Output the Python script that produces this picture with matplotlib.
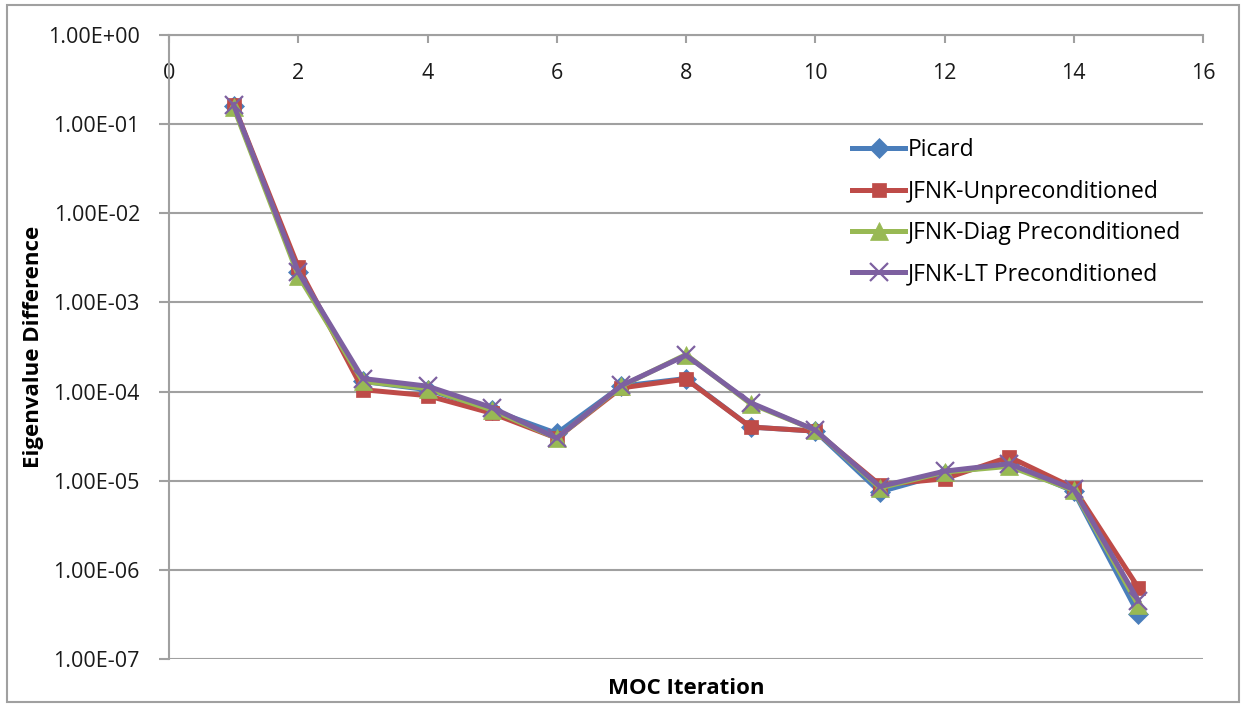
import matplotlib
matplotlib.use("Agg")
import matplotlib.pyplot as plt
from matplotlib.patches import Rectangle

iterations = list(range(1, 16))
picard = [0.16, 2.2e-3, 1.3e-4, 1.05e-4, 6.2e-5, 3.4e-5, 1.15e-4, 1.4e-4, 4.0e-5, 3.6e-5,
          7.5e-6, 1.2e-5, 1.55e-5, 7.6e-6, 3.2e-7]
jfnk_unprec = [0.165, 2.5e-3, 1.05e-4, 9.0e-5, 5.7e-5, 3.0e-5, 1.1e-4, 1.38e-4, 4.0e-5, 3.6e-5,
               9.0e-6, 1.05e-5, 1.85e-5, 8.3e-6, 6.3e-7]
jfnk_diag = [0.155, 2.0e-3, 1.3e-4, 1.08e-4, 6.2e-5, 3.0e-5, 1.15e-4, 2.6e-4, 7.3e-5, 3.7e-5,
             8.3e-6, 1.25e-5, 1.45e-5, 7.8e-6, 4.0e-7]
jfnk_lt = [0.165, 2.2e-3, 1.4e-4, 1.15e-4, 6.6e-5, 3.0e-5, 1.17e-4, 2.55e-4, 7.5e-5, 3.7e-5,
           8.6e-6, 1.28e-5, 1.55e-5, 8.0e-6, 4.5e-7]

series_names = ["Picard", "JFNK-Unpreconditioned", "JFNK-Diag Preconditioned", "JFNK-LT Preconditioned"]
y_ticks = [1e0, 1e-1, 1e-2, 1e-3, 1e-4, 1e-5, 1e-6, 1e-7]
y_tick_labels = ["1.00E+00", "1.00E-01", "1.00E-02", "1.00E-03", "1.00E-04", "1.00E-05", "1.00E-06", "1.00E-07"]
x_ticks = list(range(0, 17, 2))

plt.rcParams['font.family'] = ['Open Sans', 'DejaVu Sans']

fig = plt.figure(figsize=(12.44, 7.05), dpi=100)
ax = fig.add_axes([169/1244, 1-659/705, (1203-169)/1244, (659-35)/705])

colors = ["#4A7EBB", "#BE4B48", "#98B954", "#7D60A0"]
markers = ["D", "s", "^", "x"]
msizes = [10, 10, 13, 13]
data = [picard, jfnk_unprec, jfnk_diag, jfnk_lt]
for vals, name, c, m, ms in zip(data, series_names, colors, markers, msizes):
    ax.plot(iterations, vals, color=c, lw=3.6, marker=m, markersize=ms,
            markeredgewidth=1.6 if m == "x" else 0.5, markeredgecolor=c, label=name)

ax.set_yscale("log")
ax.set_ylim(1e-7, 1e0)
ax.set_xlim(0, 16)
ax.set_yticks(y_ticks)
ax.set_yticklabels(y_tick_labels)
ax.yaxis.set_minor_locator(matplotlib.ticker.NullLocator())
ax.set_xticks(x_ticks)
ax.set_xticklabels([str(v) for v in x_ticks])

ax.grid(axis="y", color="#A0A0A0", lw=1.5)
ax.set_axisbelow(True)
for s in ["right", "bottom"]:
    ax.spines[s].set_visible(False)
ax.spines["left"].set_color("#A0A0A0")
ax.spines["left"].set_linewidth(1.5)
ax.spines["top"].set_color("#A0A0A0")
ax.spines["top"].set_linewidth(1.5)

ax.tick_params(axis="y", direction="out", length=7, width=1.5, color="#A0A0A0",
               labelsize=15.5, pad=14, labelcolor="#1a1a1a")
ax.tick_params(axis="x", bottom=False, labelbottom=False, top=True, labeltop=True,
               direction="in", length=6, width=1.5, color="#A0A0A0",
               labelsize=15.5, pad=-35, labelcolor="#1a1a1a")

ax.set_ylabel("Eigenvalue Difference", fontsize=16, fontweight="bold", labelpad=3)
fig.text(686/1244, 1-688/705, "MOC Iteration", fontsize=16, fontweight="bold",
         ha="center", va="center")

leg = ax.legend(loc="upper left", bbox_to_anchor=(0.652, 0.849), frameon=False,
                fontsize=16.5, handlelength=2.3, labelspacing=0.75, handletextpad=0.1,
                borderaxespad=0)

fig.patches.append(Rectangle((7/1244, 1-702/705), 1232/1244, 697/705,
                             transform=fig.transFigure, fill=False,
                             edgecolor="#A0A0A0", lw=1.5))

fig.savefig("out.png", dpi=100)
